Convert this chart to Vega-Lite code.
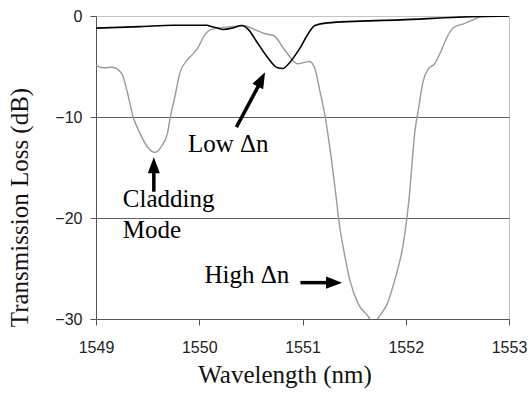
{
  "$schema": "https://vega.github.io/schema/vega-lite/v6.json",
  "width": 413,
  "height": 303,
  "autosize": {"type": "none"},
  "padding": {"left": 96, "top": 16, "right": 19, "bottom": 74},
  "background": "white",
  "config": {
    "view": {"stroke": "#bdbdbd", "strokeWidth": 1},
    "font": "Liberation Sans"
  },
  "datasets": {
    "high": [
      {"wl": 1549.00, "loss": -4.9},
      {"wl": 1549.07, "loss": -5.13},
      {"wl": 1549.16, "loss": -5.07},
      {"wl": 1549.25, "loss": -5.7},
      {"wl": 1549.30, "loss": -7.4},
      {"wl": 1549.36, "loss": -10.0},
      {"wl": 1549.43, "loss": -11.7},
      {"wl": 1549.50, "loss": -13.0},
      {"wl": 1549.57, "loss": -13.5},
      {"wl": 1549.64, "loss": -12.8},
      {"wl": 1549.69, "loss": -11.7},
      {"wl": 1549.72, "loss": -10.0},
      {"wl": 1549.77, "loss": -7.7},
      {"wl": 1549.81, "loss": -5.7},
      {"wl": 1549.88, "loss": -4.4},
      {"wl": 1549.94, "loss": -3.75},
      {"wl": 1549.99, "loss": -3.1},
      {"wl": 1550.04, "loss": -2.1},
      {"wl": 1550.10, "loss": -1.4},
      {"wl": 1550.20, "loss": -1.17},
      {"wl": 1550.33, "loss": -1.04},
      {"wl": 1550.42, "loss": -0.94},
      {"wl": 1550.56, "loss": -1.44},
      {"wl": 1550.64, "loss": -1.76},
      {"wl": 1550.72, "loss": -1.93},
      {"wl": 1550.81, "loss": -3.1},
      {"wl": 1550.88, "loss": -4.08},
      {"wl": 1550.95, "loss": -4.73},
      {"wl": 1551.03, "loss": -4.57},
      {"wl": 1551.07, "loss": -4.5},
      {"wl": 1551.12, "loss": -5.2},
      {"wl": 1551.17, "loss": -7.5},
      {"wl": 1551.22, "loss": -10.0},
      {"wl": 1551.24, "loss": -11.3},
      {"wl": 1551.33, "loss": -18.3},
      {"wl": 1551.35, "loss": -20.1},
      {"wl": 1551.40, "loss": -23.2},
      {"wl": 1551.46, "loss": -26.2},
      {"wl": 1551.54, "loss": -28.5},
      {"wl": 1551.64, "loss": -29.8},
      {"wl": 1551.67, "loss": -30.3},
      {"wl": 1551.71, "loss": -30.2},
      {"wl": 1551.73, "loss": -29.95},
      {"wl": 1551.75, "loss": -29.65},
      {"wl": 1551.82, "loss": -28.5},
      {"wl": 1551.90, "loss": -25.9},
      {"wl": 1551.97, "loss": -22.9},
      {"wl": 1552.01, "loss": -20.1},
      {"wl": 1552.03, "loss": -18.3},
      {"wl": 1552.09, "loss": -11.3},
      {"wl": 1552.12, "loss": -9.4},
      {"wl": 1552.17, "loss": -6.4},
      {"wl": 1552.22, "loss": -5.23},
      {"wl": 1552.28, "loss": -4.73},
      {"wl": 1552.33, "loss": -3.75},
      {"wl": 1552.40, "loss": -2.1},
      {"wl": 1552.46, "loss": -1.17},
      {"wl": 1552.56, "loss": -0.77},
      {"wl": 1552.65, "loss": -0.38},
      {"wl": 1552.74, "loss": -0.05},
      {"wl": 1553.00, "loss": 0.0}
    ],
    "low": [
      {"wl": 1549.00, "loss": -1.2},
      {"wl": 1549.43, "loss": -1.05},
      {"wl": 1549.75, "loss": -0.92},
      {"wl": 1549.91, "loss": -0.92},
      {"wl": 1550.08, "loss": -0.92},
      {"wl": 1550.10, "loss": -1.0},
      {"wl": 1550.17, "loss": -1.17},
      {"wl": 1550.23, "loss": -1.34},
      {"wl": 1550.33, "loss": -1.17},
      {"wl": 1550.41, "loss": -0.94},
      {"wl": 1550.47, "loss": -1.27},
      {"wl": 1550.56, "loss": -2.6},
      {"wl": 1550.66, "loss": -4.08},
      {"wl": 1550.76, "loss": -5.13},
      {"wl": 1550.81, "loss": -5.2},
      {"wl": 1550.85, "loss": -4.9},
      {"wl": 1550.95, "loss": -3.58},
      {"wl": 1550.98, "loss": -3.1},
      {"wl": 1551.04, "loss": -2.0},
      {"wl": 1551.12, "loss": -0.94},
      {"wl": 1551.24, "loss": -0.68},
      {"wl": 1551.95, "loss": -0.38},
      {"wl": 1552.72, "loss": -0.05},
      {"wl": 1553.00, "loss": 0.0}
    ],
    "labels": [
      {"wl": 1549.89, "loss": -13.5, "text": "Low Δn"},
      {"wl": 1549.26, "loss": -18.95, "text": "Cladding"},
      {"wl": 1549.26, "loss": -22.0, "text": "Mode"},
      {"wl": 1550.05, "loss": -26.4, "text": "High Δn"}
    ],
    "shafts": [
      {"wl": 1549.56, "loss": -17.4, "wl2": 1549.56, "loss2": -15.3},
      {"wl": 1550.98, "loss": -26.4, "wl2": 1551.27, "loss2": -26.4},
      {"wl": 1550.36, "loss": -11.0, "wl2": 1550.59, "loss2": -6.6}
    ],
    "headUp": [{"wl": 1549.56, "loss": -14.78}],
    "headRight": [{"wl": 1551.306, "loss": -26.4}],
    "headDiag": [{"wl": 1550.602, "loss": -6.27}]
  },
  "encoding": {
    "x": {
      "field": "wl", "type": "quantitative",
      "scale": {"domain": [1549, 1553], "nice": false, "zero": false},
      "axis": {
        "values": [1549, 1550, 1551, 1552, 1553],
        "format": "d",
        "grid": false,
        "domainColor": "#555555",
        "tickColor": "#555555",
        "tickSize": 6,
        "labelPadding": 14,
        "labelFont": "Liberation Sans",
        "labelFontSize": 16,
        "labelColor": "#222222",
        "labelFlush": false,
        "title": "Wavelength (nm)",
        "titleFont": "Liberation Serif",
        "titleFontSize": 25,
        "titleFontWeight": "normal",
        "titleColor": "#111111",
        "titleX": 188.5,
        "titleY": 63,
        "titleAlign": "center",
        "titleBaseline": "alphabetic"
      }
    },
    "y": {
      "field": "loss", "type": "quantitative",
      "scale": {"domain": [-30, 0], "nice": false, "zero": false},
      "axis": {
        "values": [-30, -20, -10, 0],
        "grid": true,
        "gridColor": {"condition": {"test": "datum.value == 0", "value": "#c4c4c4"}, "value": "#606060"},
        "gridWidth": 1,
        "domainColor": "#555555",
        "tickColor": "#555555",
        "tickSize": 6,
        "labelPadding": 8,
        "labelFont": "Liberation Sans",
        "labelFontSize": 16,
        "labelColor": "#222222",
        "labelFlush": false,
        "title": "Transmission Loss (dB)",
        "titleFont": "Liberation Serif",
        "titleFontSize": 25,
        "titleFontWeight": "normal",
        "titleColor": "#111111",
        "titleAngle": -90,
        "titleX": -69,
        "titleY": 191,
        "titleAlign": "center",
        "titleBaseline": "alphabetic"
      }
    }
  },
  "layer": [
    {
      "data": {"name": "high"},
      "mark": {"type": "line", "color": "#9a9a9a", "strokeWidth": 1.4, "interpolate": "monotone", "clip": true}
    },
    {
      "data": {"name": "low"},
      "mark": {"type": "line", "color": "#000000", "strokeWidth": 1.6, "interpolate": "monotone", "clip": true}
    },
    {
      "data": {"name": "labels"},
      "mark": {"type": "text", "font": "Liberation Serif", "fontSize": 25, "align": "left", "baseline": "alphabetic", "color": "#000000"},
      "encoding": {"text": {"field": "text"}}
    },
    {
      "data": {"name": "shafts"},
      "mark": {"type": "rule", "color": "#000000", "strokeWidth": 3.5},
      "encoding": {
        "x2": {"field": "wl2"},
        "y2": {"field": "loss2"}
      }
    },
    {
      "data": {"name": "headUp"},
      "mark": {"type": "point", "shape": "M0,-1L-0.75,1L0.75,1Z", "size": 260, "filled": true, "color": "#000000", "opacity": 1, "angle": 0}
    },
    {
      "data": {"name": "headRight"},
      "mark": {"type": "point", "shape": "M0,-1L-0.75,1L0.75,1Z", "size": 260, "filled": true, "color": "#000000", "opacity": 1, "angle": 90}
    },
    {
      "data": {"name": "headDiag"},
      "mark": {"type": "point", "shape": "M0,-1L-0.75,1L0.75,1Z", "size": 260, "filled": true, "color": "#000000", "opacity": 1, "angle": 27}
    }
  ]
}
